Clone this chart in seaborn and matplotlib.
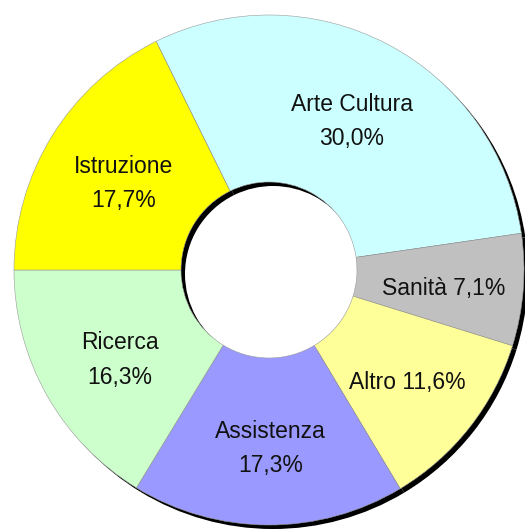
import matplotlib
matplotlib.use("Agg")
import matplotlib.pyplot as plt
import matplotlib.transforms as mtransforms
import seaborn as sns

categories = ["Arte Cultura", "Sanità", "Altro", "Assistenza", "Ricerca", "Istruzione"]
values = [30.0, 7.1, 11.6, 17.3, 16.3, 17.7]
two_line = [True, False, False, True, True, True]
colors = ["#CCFFFF", "#C0C0C0", "#FFFF99", "#9999FF", "#CCFFCC", "#FFFF00"]

sns.set_style("white")
plt.rcParams["font.family"] = ["Liberation Sans", "DejaVu Sans"]

labels = [f"{c}{chr(10) if t else ' '}{v:.1f}%".replace(".", ",")
          for c, v, t in zip(categories, values, two_line)]

W, H = 525, 531
fig = plt.figure(figsize=(W / 100, H / 100), dpi=100)
cx, cy, R = 269, 270, 255
ax = fig.add_axes([(cx - R) / W, (H - cy - R) / H, 2 * R / W, 2 * R / H])

start = 180 - values[-1] * 3.6 + 360  # Istruzione ends at left horizontal
width = 1 - 88 / R

shadow, _ = ax.pie(values, colors=["black"] * len(values), startangle=start,
                   counterclock=False, radius=1,
                   wedgeprops=dict(width=width, linewidth=0))
off = mtransforms.ScaledTranslation(4 / 100, -4 / 100, fig.dpi_scale_trans)
for w in shadow:
    w.set_transform(ax.transData + off)
    w.set_clip_on(False)

wedges, texts = ax.pie(values, colors=colors, startangle=start,
                       counterclock=False, radius=1, labels=labels,
                       labeldistance=0.68,
                       wedgeprops=dict(width=width, linewidth=0.4, edgecolor="#9a9a9a"),
                       textprops=dict(fontsize=16.5, color="#111111", ha="center",
                                      va="center", linespacing=1.62))
for w in wedges:
    w.set_clip_on(False)
toff = mtransforms.ScaledTranslation(2 / 100, -5 / 100, fig.dpi_scale_trans)
for t in texts:
    t.set_horizontalalignment("center")
    t.set_verticalalignment("center")
    t.set_transform(ax.transData + toff)

ax.set_xlim(-1, 1)
ax.set_ylim(-1, 1)
ax.set_aspect("equal")
ax.axis("off")

fig.savefig("out.png", dpi=100)
